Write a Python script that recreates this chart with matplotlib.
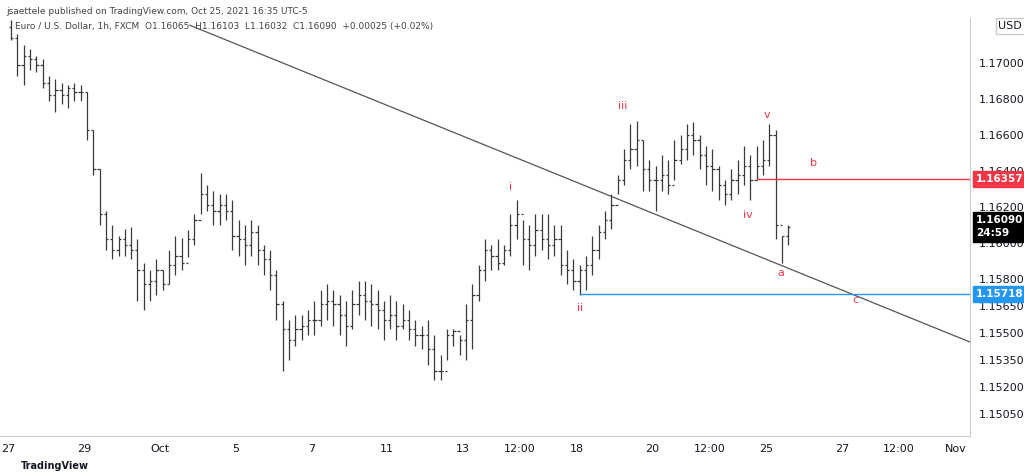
import numpy as np
import matplotlib.pyplot as plt

# 4h bars, prices in pips above 1.15000, one row per trading day
days = ["Sep 27", "Sep 28", "Sep 29", "Sep 30", "Oct 1", "Oct 4", "Oct 5", "Oct 6",
        "Oct 7", "Oct 8", "Oct 11", "Oct 12", "Oct 13", "Oct 14", "Oct 15",
        "Oct 18", "Oct 19", "Oct 20", "Oct 21", "Oct 22", "Oct 25"]
bars = [
    [(224, 213, 214), (216, 193, 199), (210, 188, 204), (208, 196, 202), (204, 195, 199), (202, 186, 189)],
    [(193, 179, 182), (191, 173, 185), (189, 177, 182), (188, 175, 186), (189, 179, 184), (188, 179, 184)],
    [(184, 157, 163), (163, 138, 141), (141, 110, 116), (118, 96, 102), (110, 91, 96), (104, 93, 102)],
    [(108, 93, 99), (109, 91, 96), (102, 68, 85), (89, 63, 77), (85, 68, 79), (91, 71, 85)],
    [(85, 74, 77), (96, 77, 88), (104, 82, 93), (103, 85, 89), (107, 92, 102), (116, 99, 113)],
    [(139, 116, 127), (132, 118, 121), (129, 110, 118), (127, 110, 121), (127, 113, 118), (124, 96, 104)],
    [(113, 93, 102), (110, 88, 99), (113, 93, 106), (110, 88, 96), (99, 82, 91), (96, 74, 82)],
    [(85, 57, 66), (68, 29, 52), (57, 35, 46), (60, 43, 52), (60, 46, 54), (63, 49, 57)],
    [(68, 49, 57), (74, 54, 66), (77, 57, 68), (74, 54, 66), (71, 49, 60), (68, 43, 54)],
    [(74, 52, 66), (79, 60, 71), (79, 57, 68), (77, 54, 66), (74, 52, 63), (68, 46, 57)],
    [(71, 52, 60), (68, 46, 54), (66, 52, 57), (63, 46, 52), (57, 43, 49), (54, 41, 49)],
    [(57, 32, 41), (49, 24, 29), (38, 24, 29), (52, 35, 49), (52, 43, 51), (49, 38, 46)],
    [(66, 35, 57), (77, 41, 71), (88, 68, 85), (102, 79, 96), (99, 85, 93), (102, 85, 89)],
    [(99, 88, 96), (116, 93, 110), (124, 102, 116), (113, 88, 102), (110, 85, 99), (116, 93, 107)],
    [(116, 96, 102), (116, 91, 99), (110, 93, 102), (110, 82, 88), (96, 77, 85), (91, 74, 79)],
    [(88, 71, 85), (93, 74, 88), (104, 82, 96), (110, 91, 106), (118, 102, 113), (127, 108, 121)],
    [(138, 127, 135), (152, 132, 146), (166, 141, 152), (168, 143, 157), (157, 129, 141), (146, 129, 135)],
    [(143, 118, 135), (149, 129, 138), (146, 127, 132), (157, 135, 146), (160, 144, 152), (166, 146, 160)],
    [(167, 149, 157), (160, 141, 149), (154, 132, 143), (152, 129, 141), (143, 124, 132), (135, 121, 127)],
    [(141, 124, 135), (146, 127, 138), (154, 132, 143), (149, 124, 135), (154, 135, 143), (157, 138, 146)],
    [(166, 143, 160), (163, 102, 110), (104, 89, 104), (110, 99, 109)],
]
first_open = 220

# trendline anchors (day index, price) and levels
trend_x = [4.80, 25.38]
trend_y = [1.17210, 1.15450]
red_level, red_start = 1.16357, 19.76
blue_level, blue_start = 1.15718, 15.1
last_price = 1.16090

wave_labels = ["i", "ii", "iii", "iv", "v", "a", "b", "c"]
wave_x = [13.25, 15.1, 16.23, 19.52, 20.02, 20.4, 21.24, 22.37]
wave_y = [1.16311, 1.15639, 1.16761, 1.16156, 1.16711, 1.15833, 1.16444, 1.15683]

tick_pos = [0, 2, 4, 6, 8, 10, 12, 13.5, 15, 17, 18.5, 20, 22, 23.5, 25]
tick_lab = ["27", "29", "Oct", "5", "7", "11", "13", "12:00", "18", "20", "12:00", "25", "27", "12:00", "Nov"]
price_ticks = [1.17, 1.168, 1.166, 1.164, 1.162, 1.16, 1.158, 1.1565, 1.155, 1.1535, 1.152, 1.1505]

# flatten bars
xs, hi, lo, cl = [], [], [], []
for d, row in enumerate(bars):
    for k, (h, l, c) in enumerate(row):
        xs.append(d + (k + 0.5) / 6)
        hi.append(1.15 + h / 1e4)
        lo.append(1.15 + l / 1e4)
        cl.append(1.15 + c / 1e4)
xs = np.array(xs)
cl = np.array(cl)
op = np.concatenate([[1.15 + first_open / 1e4], cl[:-1]])

fig = plt.figure(figsize=(10.24, 4.76), dpi=100)
ax = fig.add_axes([0, 0.084, 970 / 1024, 0.878])
ax.set_xlim(-0.21, 25.38)
ax.set_ylim(1.14928, 1.1725)

barc = "#3a3a3a"
ax.vlines(xs, lo, hi, color=barc, lw=0.9)
ax.hlines(op, xs - 0.06, xs, color=barc, lw=0.9)
ax.hlines(cl, xs, xs + 0.06, color=barc, lw=0.9)

ax.plot(trend_x, trend_y, color="#555555", lw=0.9)
ax.plot([red_start, 25.38], [red_level] * 2, color="#f23645", lw=1)
ax.plot([blue_start, 25.38], [blue_level] * 2, color="#2196f3", lw=1)

for t, x, y in zip(wave_labels, wave_x, wave_y):
    ax.text(x, y, t, color="#f23645", fontsize=8, ha="center", va="center")

ax.yaxis.tick_right()
ax.set_yticks(price_ticks)
ax.set_yticklabels([f"{p:.5f}" for p in price_ticks], fontsize=8, color="#131722")
ax.tick_params(axis="y", length=0, pad=6)
ax.set_xticks(tick_pos)
ax.set_xticklabels(tick_lab, fontsize=8, color="#131722")
ax.tick_params(axis="x", length=0, pad=6)
for s in ["top", "left"]:
    ax.spines[s].set_visible(False)
ax.spines["right"].set_color("#cccccc")
ax.spines["bottom"].set_color("#cccccc")

def tag(y, txt, col, sub=None):
    ax.text(1.006, y, txt if sub is None else txt + "\n" + sub, transform=ax.get_yaxis_transform(),
            fontsize=7.5, color="white", va="center", ha="left", fontweight="bold",
            linespacing=1.4, zorder=10,
            bbox=dict(boxstyle="square,pad=0.3", fc=col, ec=col))

tag(red_level, "1.16357", "#f23645")
tag(blue_level, "1.15718", "#2196f3")
tag(last_price, "1.16090", "#000000", "24:59")
fig.text(0.975, 0.945, "USD", fontsize=8, color="#131722", va="center",
         bbox=dict(boxstyle="square,pad=0.25", fc="white", ec="#cccccc"))

fig.text(0.006, 0.985, "jsaettele published on TradingView.com, Oct 25, 2021 16:35 UTC-5",
         fontsize=6.5, color="#444444", va="top")
fig.text(0.015, 0.945, "Euro / U.S. Dollar, 1h, FXCM  O1.16065  H1.16103  L1.16032  C1.16090  +0.00025 (+0.02%)",
         fontsize=6.5, color="#444444", va="center")
fig.text(0.02, 0.022, "TradingView", fontsize=7, color="#131722", va="center", fontweight="bold")

fig.savefig("out.png", dpi=100)
